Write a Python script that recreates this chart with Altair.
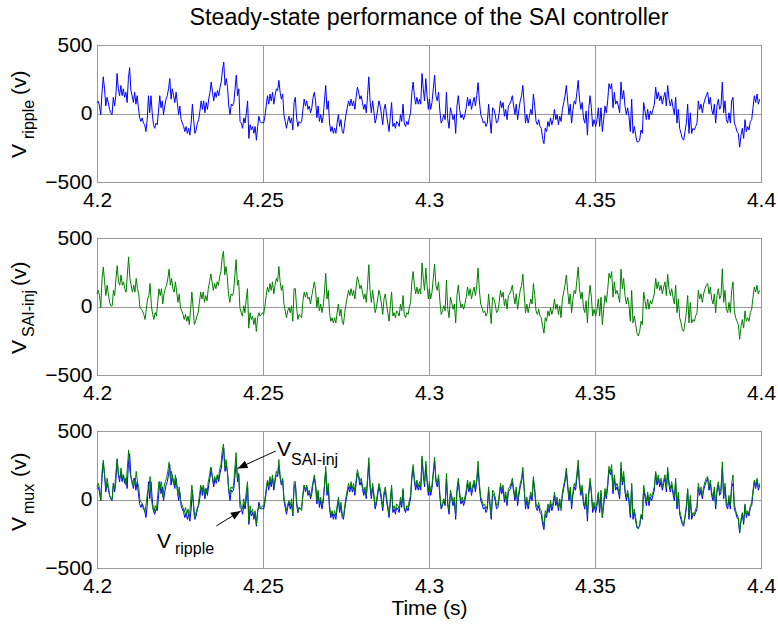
import altair as alt
import numpy as np
import pandas as pd

FONT = "Liberation Sans"

# time span of each quarter (one segment between gridlines)
seg_bounds = [(4.2, 4.2499), (4.2502, 4.2998), (4.3001, 4.3497), (4.3502, 4.3996)]

ripple_s1 = [80,90,55,-8,155,268,180,55,118,80,30,5,-8,118,55,130,292,180,130,205,130,180,118,155,80,255,335,168,130,80,155,68,130,42,-32,-58,-32,-70,-82,-132,-45,130,5,130,5,-82,-108,-70,-82,18,130,42,92,-8,55,105,130,180,255,105,180,130,80,155,80,-8,55,-45,-70,-95,-132,-95,-145,-108,-158,-70,68,-45,-145,-120,-70,-45,18,92,30,92,5,80,30,105,155,230,155,92,155,118,168,130,192,230,318,375,205,255,192,55,-8,68,55,80,180,280,130,180,-58,-70,-108,-32,-70,5,92,-182,-82,-120,-95,-145,-95,-195,-95,-20,-58,-70,-65]
ripple_s2 = [-70,-20,55,130,68,142,92,155,68,130,180,168,242,155,105,142,-8,-58,-108,-58,-20,-70,-32,-120,80,118,-32,-95,-58,-70,-58,30,105,55,92,30,55,5,42,118,155,92,-32,55,-58,-8,-70,-20,92,205,30,92,-70,-132,-95,-145,-108,-145,-70,-8,-95,-45,-132,-145,-70,-8,42,92,55,105,55,92,30,118,192,155,105,130,80,30,68,5,130,268,92,5,92,18,-70,-32,30,92,55,-8,-82,30,68,-8,-70,-132,-20,80,-95,-70,-108,-58,-70,-95,-8,-58,68,-70,-95,-58,-82,-32,5,155,230,130,68,118,68,105,68,292,180,92,255,130,30]
ripple_s3 = [105,30,80,180,280,130,92,155,18,-70,-45,-8,-45,155,-45,-108,42,5,-45,-8,-145,55,130,30,-32,-8,-45,-8,42,118,55,105,30,80,118,55,130,225,92,-8,-32,-70,-58,-95,-70,68,-45,-145,42,30,-8,-70,-58,5,92,42,80,-20,30,-45,55,68,92,130,55,-8,68,-45,30,92,130,205,68,-70,-8,-70,-20,30,-8,142,55,-58,-82,-45,-95,-108,-182,-220,-108,-132,-58,-95,-32,-82,-45,30,-45,-8,-82,-20,-58,30,80,130,205,92,-8,68,-70,30,92,68,155,242,105,30,80,-32,-70,18,-158,30,130,42,-95,-45]
ripple_s4 = [-95,-45,42,-95,42,-132,-45,55,5,92,218,180,218,42,155,68,92,55,5,230,105,168,55,-8,42,-20,-132,105,-145,-95,-158,-207,-207,-195,-120,-145,80,18,-45,30,-45,18,-8,30,68,192,105,155,92,130,68,118,155,55,205,105,55,105,42,-8,118,-70,30,-108,-145,-182,-195,-132,-70,68,-145,5,-145,-108,-120,-95,-70,92,30,68,5,68,105,130,155,68,118,30,-8,68,-70,55,105,30,55,230,5,92,-45,-70,5,-70,92,118,-70,-95,-132,-145,-245,-158,-108,-182,-45,-132,-95,-120,-58,-45,42,130,80,142,68,105]

sai_s1 = [92,118,80,-8,205,288,180,80,155,92,30,5,5,118,80,205,298,180,155,230,155,180,130,105,230,362,205,155,105,155,105,205,130,92,-8,-20,-32,-58,-95,-20,55,80,168,5,-58,-95,-45,-70,30,130,80,130,18,92,130,155,205,272,155,205,130,105,180,105,30,92,-8,-32,-58,-95,-58,-108,-70,-132,-20,105,-8,-132,-108,-70,-45,30,105,55,105,30,80,42,130,180,238,180,118,168,130,180,155,218,255,355,405,230,292,218,92,30,92,80,105,230,342,155,192,-8,-45,-70,5,-45,55,130,-158,-45,-95,-70,-132,-82,-182,-82,-45,-70,-58,-45]
sai_s2 = [-58,5,80,142,105,168,118,180,92,155,205,180,292,180,118,155,18,-32,-82,-32,-8,-45,5,-108,130,130,-8,-95,-58,-70,-82,42,105,68,105,55,68,18,80,130,180,118,-8,68,-32,18,-45,5,105,242,55,118,-45,-108,-82,-120,-82,-120,-45,18,-70,-20,-108,-132,-45,18,68,118,80,130,80,118,55,142,218,180,130,155,105,55,92,30,155,305,118,30,118,42,-45,-8,55,118,80,18,-58,55,92,18,-45,-108,5,105,-70,-45,-82,-32,-45,-70,18,-32,80,-58,-82,-45,-58,-8,30,180,255,155,92,142,92,130,92,318,205,118,280,155,55]
sai_s3 = [130,55,105,205,310,155,118,180,42,-58,-32,5,-32,192,-20,-82,68,30,-20,18,-120,80,155,55,-8,18,-20,18,68,142,80,130,55,105,142,80,155,280,118,18,-8,-45,-32,-70,-45,92,-20,-125,68,55,18,-45,-32,30,118,68,105,5,55,-20,80,92,118,155,80,18,92,-20,55,118,155,235,92,-45,18,-45,5,55,18,168,80,-32,-58,-20,-70,-82,-145,-195,-82,-108,-32,-70,-8,-58,-20,55,-20,18,-58,5,-82,55,105,155,230,118,18,92,-45,55,118,92,192,288,130,55,105,-8,-45,42,-120,55,155,68,-70,-20]
sai_s4 = [-70,-20,55,-70,68,-132,-20,80,30,118,242,205,255,68,180,92,118,80,30,272,130,205,80,18,68,5,-108,118,-120,-70,-132,-195,-215,-182,-108,-132,105,42,-20,55,-20,42,18,55,92,205,130,180,118,155,92,142,180,80,235,130,80,130,68,18,155,-45,55,-82,-120,-170,-182,-120,-45,80,-120,30,-120,-95,-108,-70,-45,118,55,92,30,92,130,155,168,92,142,55,18,92,-45,80,130,55,80,275,30,118,-20,-45,30,-45,118,180,-32,-82,-108,-132,-240,-145,-95,-158,-32,-108,-82,-108,-45,-20,68,142,105,155,92,118]

x_ticks = [4.2, 4.25, 4.3, 4.35, 4.4]
y_ticks = [-500, 0, 500]
title_text = "Steady-state performance of the SAI controller"


def build(segs, name):
    rows = []
    for (a, b), vals in zip(seg_bounds, segs):
        ts = np.linspace(a, b, len(vals))
        for t, v in zip(ts, vals):
            rows.append({"t": float(t), "v": v, "series": name})
    return pd.DataFrame(rows)


df_r = build([ripple_s1, ripple_s2, ripple_s3, ripple_s4], "ripple")
df_s = build([sai_s1, sai_s2, sai_s3, sai_s4], "sai")

W, H = 664, 137
BLUE = "#0000ff"
GREEN = "#008000"

xscale = alt.Scale(domain=[4.2, 4.4], nice=False, zero=False)
yscale = alt.Scale(domain=[-500, 500], nice=False)


def xaxis(title=None):
    kw = dict(values=x_ticks, format=".2~f", grid=True, ticks=False, domain=False,
              labelFlush=False, labelOverlap=False, labelPadding=7)
    if title:
        return alt.Axis(title=title, titlePadding=1, **kw)
    return alt.Axis(title=None, **kw)


yaxis = alt.Axis(values=y_ticks, title=None, grid=True, ticks=False, domain=False,
                 labelPadding=5, labelOverlap=False, labelFlush=False)


def line(df, color, xtitle=None):
    return alt.Chart(df).mark_line(color=color, strokeWidth=1, interpolate="linear").encode(
        x=alt.X("t:Q", scale=xscale, axis=xaxis(xtitle)),
        y=alt.Y("v:Q", scale=yscale, axis=yaxis),
    )


one = pd.DataFrame({"k": [0]})


def ylabel(sub, y_v, y_sub, y_unit):
    main = alt.Chart(one).mark_text(text="V", angle=270, align="left", baseline="alphabetic",
                                    font=FONT, fontSize=21, color="black").encode(
        x=alt.value(-71), y=alt.value(y_v))
    s = alt.Chart(one).mark_text(text=sub, angle=270, align="left", baseline="alphabetic",
                                 font=FONT, fontSize=16, color="black").encode(
        x=alt.value(-63), y=alt.value(y_sub))
    u = alt.Chart(one).mark_text(text="(v)", angle=270, align="left", baseline="alphabetic",
                                 font=FONT, fontSize=21, color="black").encode(
        x=alt.value(-71), y=alt.value(y_unit))
    return [main, s, u]


p1 = alt.layer(line(df_r, BLUE), *ylabel("ripple", 113, 94, 50)).properties(
    width=W, height=H,
    title=alt.TitleParams(title_text, font=FONT, fontSize=23.3, fontWeight="normal",
                          anchor="middle", frame="group", offset=4, color="black"))

p2 = alt.layer(line(df_s, GREEN), *ylabel("SAI-inj", 116, 99, 48)).properties(width=W, height=H)

# annotations in the bottom panel
ann_text = pd.DataFrame({
    "t": [4.25422, 4.25843, 4.21807, 4.22349],
    "v": [317, 252, -354, -398],
    "label": ["V", "SAI-inj", "V", "ripple"],
    "size": [21, 16, 21, 16],
})
arrows = pd.DataFrame({
    "t": [4.25383, 4.24238, 4.23593, 4.24328],
    "v": [354, 227, -193, -84],
    "arrow": ["a", "a", "b", "b"],
})
heads = pd.DataFrame({"t": [4.24238, 4.24328], "v": [227, -84], "ang": [245.5, 58.4]})

txt_big = alt.Chart(ann_text[ann_text["size"] == 21]).mark_text(
    align="left", baseline="alphabetic", font=FONT, fontSize=21, color="black").encode(
    x=alt.X("t:Q", scale=xscale), y=alt.Y("v:Q", scale=yscale), text="label:N")
txt_small = alt.Chart(ann_text[ann_text["size"] == 16]).mark_text(
    align="left", baseline="alphabetic", font=FONT, fontSize=16, color="black").encode(
    x=alt.X("t:Q", scale=xscale), y=alt.Y("v:Q", scale=yscale), text="label:N")
arrow_lines = alt.Chart(arrows).mark_line(color="black", strokeWidth=1).encode(
    x=alt.X("t:Q", scale=xscale), y=alt.Y("v:Q", scale=yscale), detail="arrow:N")
arrow_heads = alt.Chart(heads).mark_point(
    shape="M0,0 L0.42,1 L-0.42,1 Z", filled=True, color="black", opacity=1, size=380).encode(
    x=alt.X("t:Q", scale=xscale), y=alt.Y("v:Q", scale=yscale), angle=alt.Angle("ang:Q", scale=None))

p3 = alt.layer(line(df_r, BLUE, "Time (s)"), line(df_s, GREEN, "Time (s)"), arrow_lines, arrow_heads,
               txt_big, txt_small, *ylabel("mux", 100, 83, 46)).properties(width=W, height=H)

chart = alt.vconcat(p1, p2, p3, spacing=15).properties(
    padding={"left": 8, "top": 5, "right": 0, "bottom": 0}
).configure_view(stroke="black", strokeWidth=1).configure_axis(
    labelFont=FONT, labelFontSize=21, labelColor="black", titleFont=FONT, titleFontSize=21,
    titleFontWeight="normal", titleColor="black", gridColor="#9a9a9a", gridOpacity=1, gridWidth=1
).configure_title(font=FONT)

chart.save("out.html", embed_options={"renderer": "svg", "actions": False})
